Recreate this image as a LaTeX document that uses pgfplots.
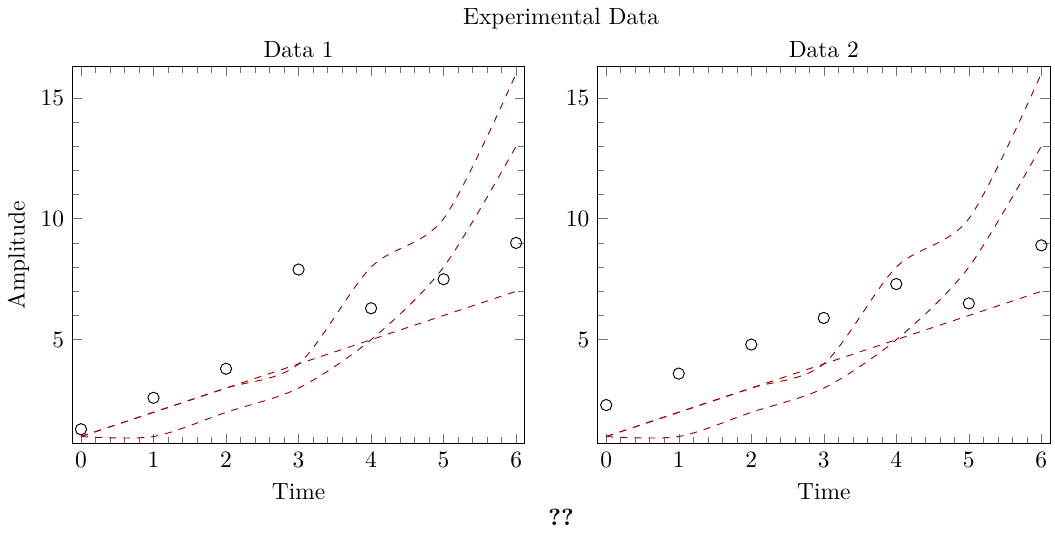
\documentclass[border=0pt]{standalone}
\usepackage{pgfplots}
\pgfplotsset{compat=1.18}
\usepgfplotslibrary{groupplots}
\definecolor{dred}{rgb}{0.62,0,0}
\begin{document}
\begin{tikzpicture}
\begin{groupplot}[
  group style={group size=2 by 1, horizontal sep=31pt, group name=G},
  scale only axis, width=193pt, height=161pt,
  xmin=-0.12, xmax=6.12, ymin=0.7, ymax=16.3,
  xtick={0,1,2,3,4,5,6}, ytick={5,10,15},
  minor x tick num=4, minor y tick num=4,
  xlabel={Time},
  tick style={black!55},
  title style={yshift=-6pt},
]
\nextgroupplot[title={Data 1}, ylabel={Amplitude}, ylabel style={yshift=-2pt}]
\addplot[dred, dashed, smooth] coordinates {(0,1) (1,2) (2,3) (3,4) (4,5) (5,6) (6,7)};
\addplot[dred, dashed, smooth] coordinates {(0,1) (1,2) (2,3) (3,4) (4,8) (5,10) (6,16)};
\addplot[dred, dashed, smooth] coordinates {(0,1) (1,1) (2,2) (3,3) (4,5) (5,8) (6,13)};
\addplot[black, only marks, mark=o, mark size=2.4pt] coordinates {(0,1.3) (1,2.6) (2,3.8) (3,7.9) (4,6.3) (5,7.5) (6,9.0)};
\nextgroupplot[title={Data 2}]
\addplot[dred, dashed, smooth] coordinates {(0,1) (1,2) (2,3) (3,4) (4,5) (5,6) (6,7)};
\addplot[dred, dashed, smooth] coordinates {(0,1) (1,2) (2,3) (3,4) (4,8) (5,10) (6,16)};
\addplot[dred, dashed, smooth] coordinates {(0,1) (1,1) (2,2) (3,3) (4,5) (5,8) (6,13)};
\addplot[black, only marks, mark=o, mark size=2.4pt] coordinates {(0,2.3) (1,3.6) (2,4.8) (3,5.9) (4,7.3) (5,6.5) (6,8.9)};
\end{groupplot}
\path (G c1r1.north west) -- (G c2r1.north east) node[midway, yshift=20.5pt] {Experimental Data};
\path (G c1r1.south west) -- (G c2r1.south east) node[midway, yshift=-31.5pt] {\textbf{??}};
\end{tikzpicture}
\end{document}
